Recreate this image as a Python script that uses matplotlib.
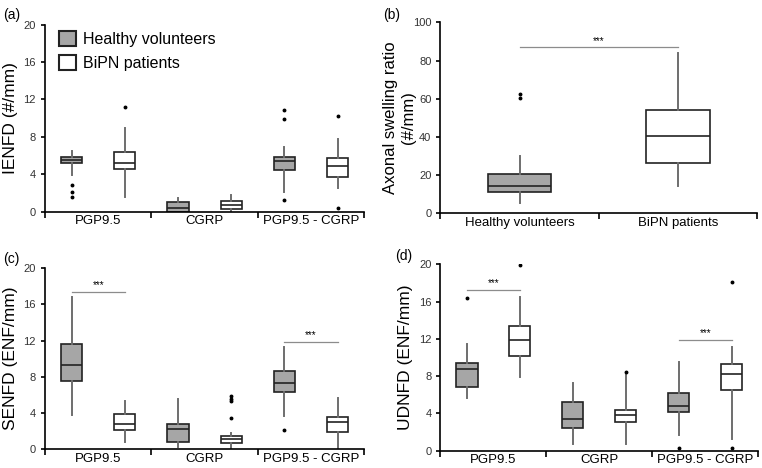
"""Box plots of nerve fibre densities: healthy volunteers vs BiPN patients."""

import matplotlib

matplotlib.use("Agg")
import matplotlib.pyplot as plt
from matplotlib.patches import Patch

plt.rcParams["font.family"] = ["Liberation Sans", "DejaVu Sans"]

categories = ["PGP9.5", "CGRP", "PGP9.5 - CGRP"]
groups = ["Healthy volunteers", "BiPN patients"]

# box stats per category: whisker low, q1, median, q3, whisker high
ienfd_hv = [[3.86, 5.25, 5.57, 5.79, 6.5], [0.0, 0.0, 0.43, 1.07, 1.5], [2.07, 4.43, 5.36, 5.82, 6.9]]
ienfd_hv_out = [[2.82, 2.07, 1.6], [], [10.9, 9.86, 1.25]]
ienfd_pt = [[1.6, 4.54, 5.18, 6.39, 8.93], [0.1, 0.29, 0.75, 1.14, 1.75], [2.5, 3.71, 4.89, 5.75, 7.79]]
ienfd_pt_out = [[11.2], [], [10.25, 0.36]]

swelling_hv = [5.6, 11.0, 14.5, 20.8, 30.0]
swelling_hv_out = [62.3, 60.2]
swelling_pt = [14.3, 26.5, 40.3, 54.3, 83.8]
swelling_pt_out = []

senfd_hv = [[3.84, 7.49, 9.26, 11.59, 16.8], [0.2, 0.77, 2.21, 2.8, 5.53], [3.69, 6.38, 7.27, 8.63, 11.29]]
senfd_hv_out = [[], [], [2.14]]
senfd_pt = [[0.77, 2.1, 2.84, 3.87, 5.35], [0.0, 0.74, 1.1, 1.44, 1.8], [0.0, 1.96, 3.06, 3.54, 5.68]]
senfd_pt_out = [[], [5.83, 5.6, 5.35, 3.47], []]

udnfd_hv = [[5.69, 6.83, 8.77, 9.45, 11.41], [0.72, 2.4, 3.36, 5.26, 7.23], [1.68, 4.15, 4.83, 6.23, 9.48]]
udnfd_hv_out = [[16.39], [], [0.29]]
udnfd_pt = [[7.94, 10.16, 11.84, 13.35, 16.49], [0.72, 3.04, 3.86, 4.36, 8.12], [1.22, 6.48, 8.19, 9.27, 11.13]]
udnfd_pt_out = [[19.89], [8.44], [18.14, 0.29]]

GRAY = "#a6a6a6"


def _stats(box, out):
    lo, q1, med, q3, hi = box
    return {"whislo": lo, "q1": q1, "med": med, "q3": q3, "whishi": hi, "fliers": out}


def draw_boxes(ax, boxes, outs, positions, face, width):
    stats = [_stats(b, o) for b, o in zip(boxes, outs)]
    ax.bxp(
        stats,
        positions=positions,
        widths=width,
        patch_artist=True,
        showcaps=False,
        boxprops=dict(facecolor=face, edgecolor="#222222", linewidth=1.2),
        medianprops=dict(color="#222222", linewidth=1.2),
        whiskerprops=dict(color="#6e6e6e", linewidth=1.4),
        flierprops=dict(marker="o", markersize=1.8, markerfacecolor="black", markeredgecolor="black"),
    )


def style_axis(ax, labels, ymax, ystep, ylabel, ylabel_size=12.5, labelpad=4):
    n = len(labels)
    ax.set_xlim(0, n)
    ax.set_ylim(0, ymax)
    ax.set_yticks(range(0, ymax + 1, ystep))
    ax.set_xticks(range(n + 1))
    ax.set_xticklabels([])
    ax.set_xticks([i + 0.5 for i in range(n)], minor=True)
    ax.set_xticklabels(labels, minor=True, fontsize=9.5)
    ax.tick_params(axis="x", which="major", direction="out", length=4, width=1.2)
    ax.tick_params(axis="x", which="minor", length=0, pad=2.5)
    ax.tick_params(axis="y", direction="out", length=3, width=1.2, labelsize=8, labelcolor="#333333")
    for side in ("top", "right"):
        ax.spines[side].set_visible(False)
    for side in ("left", "bottom"):
        ax.spines[side].set_linewidth(1.2)
    ax.set_ylabel(ylabel, fontsize=ylabel_size, labelpad=labelpad)


def sig_bar(ax, x0, x1, y, ymax):
    ax.plot([x0, x1], [y, y], color="#8c8c8c", linewidth=0.9)
    ax.text((x0 + x1) / 2, y + ymax * 0.008, "***", ha="center", va="bottom", fontsize=7)


fig = plt.figure(figsize=(7.62, 4.68), dpi=100)
ax_a = fig.add_axes([0.059, 0.548, 0.419, 0.399])
ax_b = fig.add_axes([0.578, 0.544, 0.416, 0.408])
ax_c = fig.add_axes([0.059, 0.040, 0.419, 0.387])
ax_d = fig.add_axes([0.578, 0.037, 0.417, 0.398])

hv_pos = [i + 0.25 for i in range(len(categories))]
pt_pos = [i + 0.75 for i in range(len(categories))]

# (a) IENFD
draw_boxes(ax_a, ienfd_hv, ienfd_hv_out, hv_pos, GRAY, 0.2)
draw_boxes(ax_a, ienfd_pt, ienfd_pt_out, pt_pos, "white", 0.2)
style_axis(ax_a, categories, 20, 4, "IENFD (#/mm)")
handles = [Patch(facecolor=GRAY, edgecolor="#222222", linewidth=1.5),
           Patch(facecolor="white", edgecolor="#222222", linewidth=1.5)]
ax_a.legend(handles, groups, loc="upper left", bbox_to_anchor=(0.045, 0.965), frameon=False,
            fontsize=11.5, handlelength=1.05, handleheight=1.05, handletextpad=0.45,
            labelspacing=0.5, borderaxespad=0, borderpad=0)

# (b) axonal swelling ratio
draw_boxes(ax_b, [swelling_hv], [swelling_hv_out], [0.5], GRAY, 0.4)
draw_boxes(ax_b, [swelling_pt], [swelling_pt_out], [1.5], "white", 0.4)
style_axis(ax_b, groups, 100, 20, "Axonal swelling ratio\n(#/mm)", ylabel_size=12, labelpad=-2)
sig_bar(ax_b, 0.5, 1.5, 87, 100)

# (c) SENFD
draw_boxes(ax_c, senfd_hv, senfd_hv_out, hv_pos, GRAY, 0.2)
draw_boxes(ax_c, senfd_pt, senfd_pt_out, pt_pos, "white", 0.2)
style_axis(ax_c, categories, 20, 4, "SENFD (ENF/mm)")
sig_bar(ax_c, 0.25, 0.75, 17.4, 20)
sig_bar(ax_c, 2.25, 2.75, 11.9, 20)

# (d) UDNFD
draw_boxes(ax_d, udnfd_hv, udnfd_hv_out, hv_pos, GRAY, 0.2)
draw_boxes(ax_d, udnfd_pt, udnfd_pt_out, pt_pos, "white", 0.2)
style_axis(ax_d, categories, 20, 4, "UDNFD (ENF/mm)")
sig_bar(ax_d, 0.25, 0.75, 17.25, 20)
sig_bar(ax_d, 2.25, 2.75, 11.9, 20)

for label, (x, y) in zip(["(a)", "(b)", "(c)", "(d)"],
                         [(0.004, 0.982), (0.503, 0.982), (0.004, 0.462), (0.518, 0.468)]):
    fig.text(x, y, label, fontsize=10, va="top", ha="left")

fig.savefig("out.png", dpi=100)
